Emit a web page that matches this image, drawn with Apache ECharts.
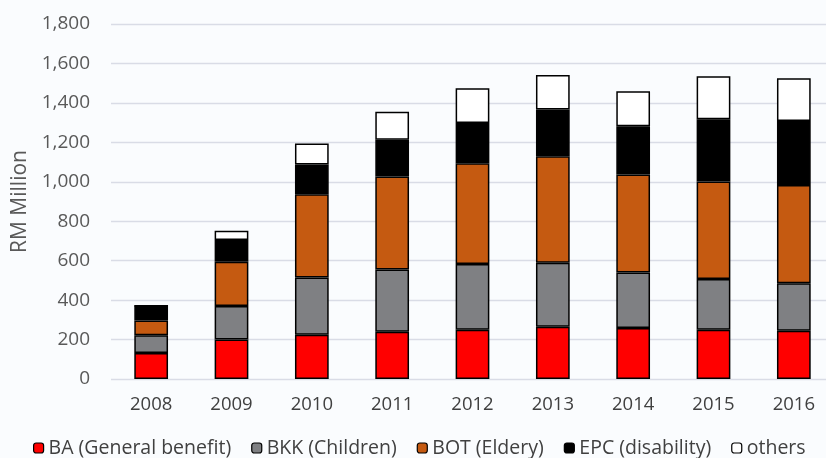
<!DOCTYPE html>
<html><head><meta charset="utf-8">
<script src="https://cdn.jsdelivr.net/npm/echarts@6/dist/echarts.min.js"></script>
<style>html,body{margin:0;padding:0;background:#fafcfe;overflow:hidden;width:826px;height:458px}#c{width:834px;height:458px}</style>
</head><body><div id="c"></div>
<script>
const years = ['2008','2009','2010','2011','2012','2013','2014','2015','2016'];
const seriesNames = ['BA (General benefit)','BKK (Children)','BOT (Eldery)','EPC (disability)','others'];
const BA = [132, 200, 225, 240, 250, 265, 258, 250, 245];
const BKK = [90, 170, 290, 315, 333, 325, 282, 257, 241];
const BOT = [75, 225, 422, 472, 511, 540, 497, 494, 498];
const EPC = [75, 110, 150, 186, 204, 237, 245, 316, 324];
const others = [0, 47, 107, 142, 176, 175, 177, 218, 217];
const colors = ['#ff0000','#7f8083','#c55a11','#000000','#ffffff'];
const data = [BA, BKK, BOT, EPC, others];
const FONT = "'Open Sans', sans-serif";

const chart = echarts.init(document.getElementById('c'));
chart.setOption({
  backgroundColor: '#fafcfe',
  animation: false,
  grid: {left: 111, right: 0, top: 24, bottom: 79},
  legend: {
    top: 438, left: 33, padding: 0, itemWidth: 10, itemHeight: 10, itemGap: 20,
    textStyle: {fontFamily: FONT, fontSize: 19.5, color: '#404040'},
    data: seriesNames.map((n,i)=>({name:n, itemStyle:{color:colors[i], borderColor:'#000', borderWidth:1.2}}))
  },
  xAxis: {
    type: 'category', data: years,
    axisLine: {show: false}, axisTick: {show: false},
    axisLabel: {fontFamily: FONT, fontSize: 18.5, color: '#404040', margin: 16}
  },
  yAxis: {
    type: 'value', min: 0, max: 1800, interval: 200,
    name: 'RM Million', nameLocation: 'middle', nameGap: 80, nameRotate: 90,
    nameTextStyle: {fontFamily: FONT, fontSize: 21, color: '#595959'},
    axisLabel: {fontFamily: FONT, fontSize: 19, color: '#595959', margin: 21,
      formatter: v => v.toLocaleString('en-US')},
    splitLine: {lineStyle: {color: '#d9dce6', width: 1.3}}
  },
  series: data.map((d,i)=>({
    name: seriesNames[i], type: 'bar', stack: 'total', data: d, barWidth: '42%',
    itemStyle: {color: colors[i], borderColor: '#000', borderWidth: 1.5}
  }))
});
</script></body></html>
